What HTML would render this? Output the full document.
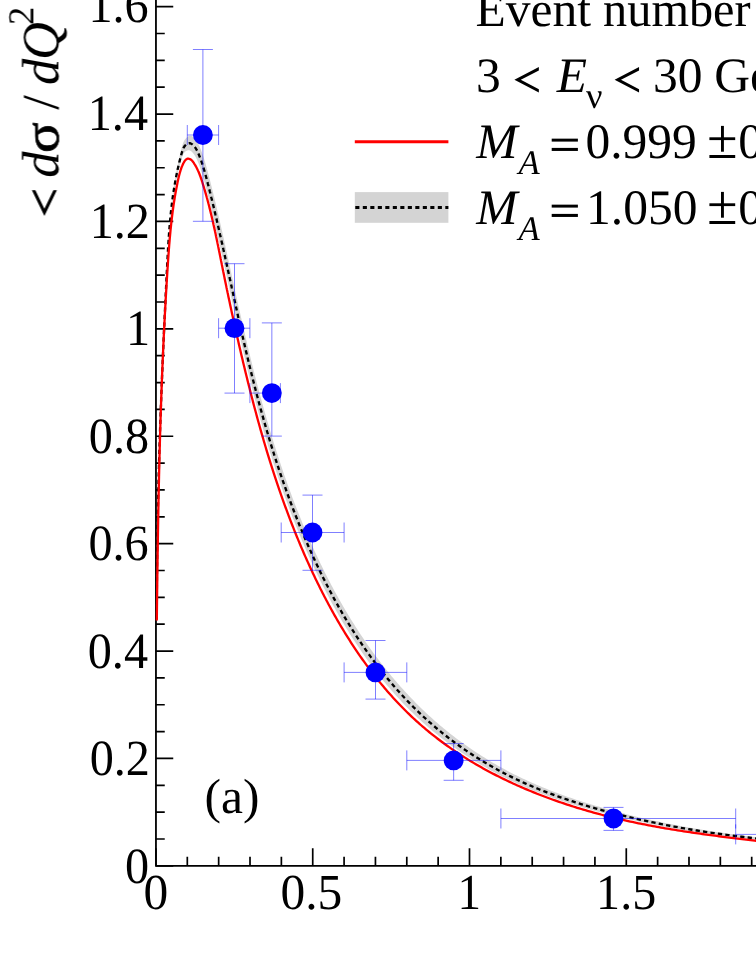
<!DOCTYPE html>
<html><head><meta charset="utf-8"><title>chart</title>
<style>
html,body{margin:0;padding:0;background:#fff;}
body{width:756px;height:978px;overflow:hidden;}
svg{display:block;}
text{font-family:"Liberation Serif",serif;font-size:49.5px;fill:#000;text-rendering:geometricPrecision;font-kerning:none;}
</style></head><body>
<svg width="756" height="978" viewBox="0 0 756 978">
<rect width="756" height="978" fill="#fff"/>
<!-- axes -->
<path d="M155.95,-5V866.75M155.05,865.85H760" fill="none" stroke="#000" stroke-width="1.8"/>
<path d="M155.95,865.85v-17.6M187.31,865.85v-9.0M218.66,865.85v-9.0M250.01,865.85v-9.0M281.37,865.85v-9.0M312.73,865.85v-17.6M344.08,865.85v-9.0M375.44,865.85v-9.0M406.79,865.85v-9.0M438.14,865.85v-9.0M469.50,865.85v-17.6M500.86,865.85v-9.0M532.21,865.85v-9.0M563.57,865.85v-9.0M594.92,865.85v-9.0M626.28,865.85v-17.6M657.63,865.85v-9.0M688.99,865.85v-9.0M720.34,865.85v-9.0M751.70,865.85v-9.0M155.95,865.85h17.3M155.95,839.00h8.8M155.95,812.15h8.8M155.95,785.30h8.8M155.95,758.45h17.3M155.95,731.60h8.8M155.95,704.75h8.8M155.95,677.90h8.8M155.95,651.05h17.3M155.95,624.20h8.8M155.95,597.35h8.8M155.95,570.50h8.8M155.95,543.65h17.3M155.95,516.80h8.8M155.95,489.95h8.8M155.95,463.10h8.8M155.95,436.25h17.3M155.95,409.40h8.8M155.95,382.55h8.8M155.95,355.70h8.8M155.95,328.85h17.3M155.95,302.00h8.8M155.95,275.15h8.8M155.95,248.30h8.8M155.95,221.45h17.3M155.95,194.60h8.8M155.95,167.75h8.8M155.95,140.90h8.8M155.95,114.05h17.3M155.95,87.20h8.8M155.95,60.35h8.8M155.95,33.50h8.8M155.95,6.65h17.3M155.95,-20.20h8.8" fill="none" stroke="#000" stroke-width="1.7"/>
<!-- uncertainty band and model curves -->
<path d="M156.82,618.25 L156.82,616.10 L156.81,613.96 L156.81,611.81 L156.81,609.67 L156.81,607.53 L156.81,605.38 L156.81,603.24 L156.81,601.09 L156.81,598.95 L156.82,596.80 L156.82,594.66 L156.83,592.51 L156.84,590.37 L156.85,588.22 L156.86,586.08 L156.87,583.94 L156.88,581.79 L156.89,579.65 L156.90,577.50 L156.92,575.36 L156.93,573.21 L156.95,571.07 L156.97,568.92 L156.99,566.77 L157.01,564.63 L157.03,562.48 L157.05,560.34 L157.07,558.19 L157.10,556.05 L157.12,553.90 L157.15,551.76 L157.17,549.61 L157.20,547.47 L157.23,545.32 L157.26,543.17 L157.29,541.03 L157.32,538.88 L157.35,536.74 L157.39,534.59 L157.42,532.45 L157.46,530.30 L157.49,528.15 L157.53,526.01 L157.57,523.86 L157.60,521.72 L157.64,519.57 L157.68,517.42 L157.73,515.28 L157.77,513.13 L157.81,510.98 L157.85,508.84 L157.90,506.69 L157.94,504.54 L157.99,502.40 L158.04,500.25 L158.09,498.10 L158.14,495.96 L158.19,493.81 L158.24,491.66 L158.29,489.52 L158.34,487.37 L158.39,485.22 L158.45,483.08 L158.50,480.93 L158.56,478.78 L158.61,476.63 L158.67,474.49 L158.73,472.34 L158.78,470.19 L158.84,468.05 L158.90,465.90 L158.96,463.75 L159.02,461.60 L159.09,459.46 L159.15,457.31 L159.21,455.16 L159.28,453.01 L159.34,450.86 L159.41,448.72 L159.47,446.57 L159.54,444.42 L159.61,442.27 L159.68,440.12 L159.75,437.97 L159.82,435.83 L159.89,433.68 L159.96,431.53 L160.03,429.38 L160.10,427.23 L160.17,425.08 L160.25,422.93 L160.32,420.79 L160.40,418.64 L160.47,416.49 L160.55,414.34 L160.63,412.19 L160.70,410.04 L160.78,407.89 L160.86,405.74 L160.94,403.59 L161.02,401.44 L161.10,399.29 L161.18,397.14 L161.26,394.99 L161.35,392.84 L161.43,390.70 L161.51,388.55 L161.60,386.40 L161.68,384.25 L161.76,382.10 L161.85,379.94 L161.94,377.79 L162.02,375.64 L162.11,373.49 L162.20,371.34 L162.29,369.19 L162.37,367.04 L162.46,364.89 L162.55,362.74 L162.64,360.59 L162.73,358.44 L162.82,356.29 L162.92,354.14 L163.01,351.99 L163.10,349.83 L163.19,347.68 L163.29,345.53 L163.38,343.38 L163.47,341.23 L163.57,339.08 L163.66,336.92 L163.76,334.77 L163.86,332.62 L163.95,330.47 L164.05,328.32 L164.15,326.16 L164.24,324.01 L164.34,321.86 L164.44,319.71 L164.54,317.55 L164.64,315.40 L164.74,313.25 L164.84,311.10 L164.94,308.94 L165.04,306.79 L165.14,304.64 L165.24,302.48 L165.34,300.33 L165.44,298.18 L165.55,296.02 L165.65,293.87 L165.75,291.72 L165.86,289.56 L165.96,287.41 L166.06,285.26 L166.17,283.10 L166.27,280.95 L166.38,278.80 L166.48,276.64 L166.59,274.49 L166.69,272.33 L166.80,270.18 L166.90,268.02 L167.01,265.87 L167.12,263.72 L167.23,261.56 L167.33,259.41 L167.44,257.25 L167.56,255.10 L167.67,252.94 L167.79,250.79 L167.91,248.63 L168.03,246.48 L168.15,244.32 L168.28,242.17 L168.41,240.01 L168.55,237.85 L168.69,235.70 L168.84,233.54 L168.99,231.39 L169.14,229.23 L169.31,227.07 L169.47,224.92 L169.65,222.76 L169.83,220.60 L170.02,218.45 L170.21,216.29 L170.41,214.13 L170.62,211.97 L170.84,209.81 L171.07,207.65 L171.30,205.49 L171.55,203.33 L171.80,201.17 L172.06,199.01 L172.34,196.85 L172.62,194.68 L172.92,192.52 L173.22,190.35 L173.54,188.18 L173.87,186.00 L174.20,183.83 L174.52,181.90 L174.56,181.65 L174.68,180.93 L174.84,179.96 L174.92,179.47 L175.00,178.99 L175.17,178.02 L175.30,177.29 L175.34,177.05 L175.51,176.08 L175.69,175.10 L175.69,175.10 L175.86,174.13 L176.04,173.16 L176.09,172.91 L176.23,172.19 L176.41,171.21 L176.51,170.72 L176.60,170.24 L176.79,169.26 L176.94,168.53 L176.99,168.28 L177.18,167.31 L177.38,166.33 L177.38,166.33 L177.58,165.35 L177.79,164.37 L177.84,164.13 L178.00,163.39 L178.21,162.41 L178.32,161.92 L178.42,161.43 L178.64,160.45 L178.80,159.71 L178.86,159.46 L179.08,158.48 L179.31,157.50 L179.31,157.50 L179.54,156.51 L179.77,155.53 L179.83,155.28 L180.01,154.54 L180.25,153.55 L180.37,153.06 L180.49,152.56 L180.74,151.58 L180.92,150.84 L180.98,150.59 L181.24,149.59 L181.49,148.61 L181.49,148.60 L181.75,147.61 L182.01,146.62 L182.08,146.38 L182.28,145.63 L182.57,144.64 L182.73,144.15 L182.90,143.66 L183.26,142.68 L183.57,141.97 L183.68,141.73 L184.17,140.78 L184.73,139.87 L184.73,139.86 L185.37,138.98 L186.07,138.16 L186.24,137.98 L186.81,137.43 L187.58,136.82 L187.97,136.57 L188.38,136.35 L189.19,136.03 L189.78,135.91 L189.99,135.89 L190.78,135.92 L191.55,136.11 L191.56,136.11 L192.32,136.43 L193.06,136.87 L193.22,136.99 L193.76,137.40 L194.43,138.00 L194.73,138.31 L195.05,138.66 L195.63,139.35 L196.03,139.87 L196.16,140.06 L196.66,140.79 L197.11,141.53 L197.11,141.54 L197.54,142.31 L197.95,143.09 L198.04,143.27 L198.33,143.87 L198.70,144.67 L198.88,145.05 L199.07,145.47 L199.42,146.27 L199.68,146.86 L199.77,147.08 L200.11,147.89 L200.44,148.69 L200.45,148.71 L200.78,149.53 L201.10,150.35 L201.17,150.54 L201.42,151.18 L201.73,152.01 L201.88,152.41 L202.03,152.85 L202.33,153.68 L202.55,154.30 L202.63,154.53 L202.92,155.37 L203.20,156.20 L203.20,156.22 L203.49,157.07 L203.76,157.92 L203.82,158.12 L204.03,158.78 L204.30,159.64 L204.43,160.05 L204.57,160.50 L204.83,161.37 L205.02,161.99 L205.09,162.23 L205.34,163.10 L205.59,163.95 L205.60,163.97 L205.85,164.85 L206.09,165.72 L206.15,165.92 L206.34,166.60 L206.58,167.48 L206.70,167.89 L206.82,168.36 L207.06,169.24 L207.24,169.88 L207.30,170.12 L207.54,171.01 L207.77,171.87 L207.78,171.89 L208.01,172.78 L208.25,173.67 L208.30,173.86 L208.48,174.56 L208.71,175.44 L208.82,175.86 L208.95,176.34 L209.18,177.23 L209.35,177.87 L209.41,178.12 L209.64,179.02 L209.87,179.88 L209.88,179.91 L210.11,180.81 L210.34,181.70 L210.39,181.90 L210.56,182.60 L210.79,183.50 L210.90,183.92 L211.02,184.40 L211.25,185.30 L211.41,185.95 L211.48,186.21 L211.70,187.11 L211.92,187.99 L211.93,188.02 L212.15,188.92 L212.38,189.83 L212.43,190.02 L212.60,190.74 L212.83,191.65 L212.93,192.07 L213.05,192.56 L213.27,193.47 L213.43,194.12 L213.50,194.38 L213.72,195.29 L213.93,196.17 L213.94,196.20 L214.16,197.11 L214.38,198.03 L214.43,198.22 L214.60,198.94 L214.82,199.85 L214.92,200.27 L215.04,200.77 L215.26,201.68 L215.41,202.33 L215.48,202.60 L215.70,203.51 L215.90,204.39 L215.91,204.43 L216.13,205.35 L216.35,206.27 L216.39,206.46 L216.56,207.18 L216.78,208.10 L216.88,208.52 L216.99,209.02 L217.21,209.94 L217.36,210.59 L217.42,210.86 L217.64,211.78 L217.84,212.66 L217.85,212.70 L218.07,213.62 L218.28,214.54 L218.32,214.73 L218.49,215.47 L218.71,216.39 L218.80,216.81 L218.92,217.31 L219.13,218.23 L219.28,218.88 L219.34,219.16 L219.55,220.08 L219.75,220.96 L219.76,221.00 L219.97,221.93 L220.18,222.85 L220.23,223.04 L220.39,223.77 L220.60,224.70 L220.70,225.12 L220.81,225.62 L221.02,226.55 L221.17,227.20 L221.23,227.48 L221.44,228.40 L221.64,229.28 L221.65,229.33 L221.86,230.25 L222.06,231.18 L222.11,231.36 L222.27,232.11 L222.48,233.03 L222.57,233.45 L222.69,233.96 L222.89,234.89 L223.04,235.54 L223.10,235.82 L223.31,236.74 L223.50,237.62 L223.51,237.67 L223.72,238.60 L223.93,239.53 L223.97,239.71 L224.13,240.46 L224.34,241.38 L224.43,241.80 L224.54,242.31 L224.75,243.24 L224.89,243.89 L224.95,244.17 L225.16,245.10 L225.35,245.98 L225.36,246.03 L225.57,246.96 L225.77,247.89 L225.81,248.07 L225.97,248.82 L226.18,249.74 L226.27,250.16 L226.38,250.67 L226.59,251.60 L226.73,252.25 L226.79,252.53 L226.99,253.46 L227.18,254.34 L227.20,254.39 L227.40,255.32 L227.60,256.25 L227.64,256.43 L227.81,257.18 L228.01,258.11 L228.10,258.52 L228.21,259.04 L228.41,259.97 L228.55,260.61 L228.62,260.90 L228.82,261.83 L229.01,262.70 L229.02,262.76 L229.23,263.69 L229.43,264.62 L229.47,264.79 L229.63,265.55 L229.83,266.48 L229.92,266.88 L230.04,267.41 L230.24,268.34 L230.38,268.97 L230.44,269.27 L230.64,270.20 L230.83,271.07 L230.85,271.13 L231.05,272.06 L231.25,272.98 L231.29,273.16 L231.45,273.91 L231.66,274.84 L231.74,275.25 L231.86,275.77 L232.06,276.70 L232.20,277.33 L232.26,277.63 L232.47,278.56 L232.66,279.42 L232.67,279.49 L232.87,280.42 L233.07,281.34 L233.11,281.51 L233.28,282.27 L233.48,283.20 L233.57,283.60 L233.68,284.13 L234.02,285.69 L234.48,287.78 L234.94,289.86 L235.40,291.95 L235.86,294.04 L236.32,296.13 L236.78,298.21 L237.24,300.30 L237.70,302.39 L238.16,304.47 L238.63,306.56 L239.09,308.65 L239.56,310.73 L240.03,312.82 L240.50,314.91 L240.97,317.00 L241.44,319.08 L241.91,321.17 L242.39,323.26 L242.87,325.35 L243.34,327.44 L243.82,329.53 L244.31,331.61 L244.79,333.70 L245.28,335.79 L245.76,337.88 L246.25,339.98 L246.75,342.07 L247.24,344.16 L247.74,346.25 L248.24,348.35 L248.74,350.44 L249.24,352.54 L249.75,354.63 L250.26,356.73 L250.77,358.82 L251.28,360.92 L251.80,363.02 L252.32,365.12 L252.84,367.22 L253.37,369.33 L253.89,371.43 L254.42,373.53 L254.96,375.63 L255.49,377.73 L256.03,379.83 L256.57,381.94 L257.12,384.04 L257.67,386.14 L258.22,388.24 L258.77,390.34 L259.33,392.44 L259.89,394.54 L260.45,396.64 L261.02,398.74 L261.59,400.83 L262.16,402.93 L262.74,405.03 L263.32,407.12 L263.90,409.22 L264.49,411.31 L265.08,413.41 L265.67,415.50 L266.27,417.59 L266.87,419.69 L267.47,421.78 L268.08,423.87 L268.69,425.96 L269.31,428.04 L269.93,430.13 L270.55,432.22 L271.17,434.30 L271.80,436.39 L272.44,438.47 L273.08,440.55 L273.72,442.63 L274.36,444.71 L275.01,446.79 L275.67,448.86 L276.32,450.94 L276.99,453.01 L277.65,455.08 L278.32,457.15 L279.00,459.22 L279.68,461.29 L280.36,463.36 L281.05,465.42 L281.74,467.48 L282.43,469.54 L283.13,471.60 L283.84,473.66 L284.55,475.71 L285.26,477.77 L285.98,479.82 L286.70,481.87 L287.43,483.91 L288.16,485.96 L288.90,488.00 L289.64,490.04 L290.38,492.08 L291.13,494.11 L291.89,496.15 L292.65,498.18 L293.42,500.21 L294.19,502.23 L294.96,504.26 L295.74,506.28 L296.53,508.30 L297.32,510.32 L298.11,512.33 L298.91,514.35 L299.72,516.36 L300.53,518.37 L301.34,520.37 L302.17,522.38 L302.99,524.38 L303.82,526.38 L304.66,528.37 L305.50,530.37 L306.35,532.36 L307.20,534.35 L308.06,536.34 L308.93,538.33 L309.80,540.31 L310.67,542.29 L311.55,544.27 L312.44,546.25 L313.33,548.22 L314.23,550.19 L315.13,552.16 L316.04,554.13 L316.96,556.09 L317.88,558.05 L318.81,560.01 L319.74,561.97 L320.68,563.92 L321.63,565.87 L322.58,567.82 L323.53,569.76 L324.50,571.70 L325.47,573.64 L326.44,575.57 L327.43,577.50 L328.41,579.42 L329.41,581.34 L330.41,583.26 L331.42,585.17 L332.43,587.08 L333.45,588.98 L334.47,590.88 L335.51,592.78 L336.55,594.67 L337.59,596.56 L338.64,598.44 L339.70,600.32 L340.77,602.19 L341.84,604.06 L342.92,605.93 L344.01,607.80 L345.10,609.65 L346.20,611.51 L347.30,613.36 L348.42,615.21 L349.54,617.05 L350.66,618.89 L351.80,620.72 L352.94,622.55 L354.09,624.37 L355.24,626.20 L356.40,628.01 L357.57,629.83 L358.75,631.63 L359.93,633.44 L361.12,635.24 L362.32,637.03 L363.53,638.82 L364.74,640.60 L365.96,642.38 L367.19,644.15 L368.42,645.91 L369.67,647.67 L370.92,649.42 L372.17,651.17 L373.44,652.91 L374.71,654.65 L375.99,656.38 L377.28,658.10 L378.58,659.82 L379.88,661.53 L381.19,663.23 L382.51,664.93 L383.84,666.62 L385.18,668.30 L386.52,669.98 L387.87,671.65 L389.23,673.32 L390.60,674.98 L391.97,676.63 L393.36,678.28 L394.75,679.92 L396.15,681.55 L397.55,683.17 L398.97,684.79 L400.40,686.40 L401.83,688.01 L403.27,689.61 L404.72,691.20 L406.18,692.78 L407.64,694.36 L409.12,695.93 L410.60,697.49 L412.09,699.04 L413.59,700.59 L415.10,702.13 L416.62,703.66 L418.15,705.19 L419.68,706.71 L421.23,708.22 L422.78,709.72 L424.34,711.21 L425.91,712.70 L427.49,714.18 L429.08,715.65 L430.68,717.11 L432.28,718.56 L433.90,720.00 L435.52,721.43 L437.15,722.86 L438.80,724.27 L440.45,725.68 L442.11,727.07 L443.78,728.46 L445.46,729.83 L447.14,731.20 L448.84,732.56 L450.54,733.90 L452.26,735.24 L453.98,736.57 L455.71,737.89 L457.45,739.20 L459.19,740.50 L460.95,741.78 L462.71,743.06 L464.48,744.33 L466.25,745.59 L468.04,746.84 L469.83,748.08 L471.63,749.30 L473.44,750.52 L475.25,751.73 L477.07,752.93 L478.90,754.11 L480.73,755.29 L482.57,756.46 L484.42,757.61 L486.27,758.76 L488.13,759.89 L490.00,761.01 L491.88,762.13 L493.75,763.23 L495.64,764.32 L497.53,765.40 L499.43,766.47 L501.33,767.53 L503.24,768.58 L505.15,769.61 L507.07,770.64 L509.00,771.65 L510.93,772.66 L512.86,773.65 L514.80,774.63 L516.75,775.60 L518.70,776.56 L520.65,777.51 L522.61,778.44 L524.57,779.37 L526.54,780.28 L528.51,781.18 L530.49,782.07 L532.47,782.95 L534.46,783.82 L536.44,784.68 L538.44,785.53 L540.43,786.37 L542.43,787.20 L544.43,788.02 L546.44,788.83 L548.45,789.63 L550.46,790.42 L552.48,791.20 L554.50,791.97 L556.52,792.74 L558.54,793.49 L560.57,794.24 L562.60,794.97 L564.63,795.70 L566.67,796.42 L568.71,797.13 L570.74,797.83 L572.79,798.52 L574.83,799.21 L576.87,799.89 L578.92,800.56 L580.97,801.22 L583.02,801.88 L585.07,802.53 L587.12,803.17 L589.18,803.80 L591.23,804.43 L593.29,805.05 L595.35,805.66 L597.41,806.27 L599.46,806.87 L601.52,807.46 L603.58,808.05 L605.64,808.63 L607.71,809.21 L609.77,809.78 L611.83,810.35 L613.89,810.91 L615.95,811.46 L618.02,812.01 L620.08,812.55 L622.15,813.08 L624.21,813.61 L626.28,814.14 L628.35,814.66 L630.41,815.17 L632.48,815.68 L634.55,816.18 L636.62,816.68 L638.69,817.17 L640.76,817.65 L642.84,818.13 L644.91,818.61 L646.98,819.08 L649.06,819.55 L651.13,820.01 L653.21,820.46 L655.29,820.91 L657.37,821.35 L659.45,821.79 L661.53,822.23 L663.61,822.66 L665.69,823.08 L667.77,823.50 L669.86,823.92 L671.94,824.33 L674.03,824.73 L676.12,825.13 L678.21,825.53 L680.30,825.92 L682.39,826.31 L684.48,826.69 L686.58,827.06 L688.68,827.44 L690.77,827.81 L692.87,828.17 L694.97,828.53 L697.07,828.88 L699.17,829.23 L701.28,829.58 L703.38,829.92 L705.49,830.26 L707.60,830.59 L709.71,830.92 L711.82,831.25 L713.93,831.57 L716.05,831.89 L718.16,832.20 L720.28,832.51 L722.40,832.82 L724.52,833.12 L726.64,833.42 L728.77,833.71 L730.89,834.00 L733.02,834.29 L735.15,834.57 L737.28,834.85 L739.41,835.12 L741.55,835.39 L743.69,835.66 L745.82,835.93 L747.97,836.19 L750.11,836.45 L752.25,836.70 L754.40,836.95 L756.55,837.20 L758.70,837.44 L760.85,837.68 L763.00,837.92 L765.16,838.16 L767.32,838.39 L769.48,838.62 L771.64,838.84 L773.81,839.06 L775.97,839.28 L778.14,839.50 L780.31,839.71 L780.31,842.05 L778.14,841.85 L775.97,841.66 L773.81,841.46 L771.64,841.25 L769.48,841.05 L767.32,840.84 L765.16,840.63 L763.00,840.41 L760.85,840.20 L758.70,839.98 L756.55,839.75 L754.40,839.53 L752.25,839.30 L750.11,839.07 L747.97,838.83 L745.82,838.59 L743.69,838.35 L741.55,838.11 L739.41,837.86 L737.28,837.61 L735.15,837.36 L733.02,837.10 L730.89,836.84 L728.77,836.57 L726.64,836.30 L724.52,836.03 L722.40,835.76 L720.28,835.48 L718.16,835.20 L716.05,834.91 L713.93,834.62 L711.82,834.33 L709.71,834.03 L707.60,833.73 L705.49,833.42 L703.38,833.11 L701.28,832.80 L699.17,832.49 L697.07,832.17 L694.97,831.84 L692.87,831.51 L690.77,831.18 L688.68,830.85 L686.58,830.50 L684.48,830.16 L682.39,829.81 L680.30,829.46 L678.21,829.10 L676.12,828.74 L674.03,828.37 L671.94,828.00 L669.86,827.63 L667.77,827.25 L665.69,826.87 L663.61,826.48 L661.53,826.09 L659.45,825.69 L657.37,825.29 L655.29,824.88 L653.21,824.47 L651.13,824.06 L649.06,823.64 L646.98,823.21 L644.91,822.78 L642.84,822.35 L640.76,821.91 L638.69,821.46 L636.62,821.01 L634.55,820.56 L632.48,820.10 L630.41,819.64 L628.35,819.17 L626.28,818.69 L624.21,818.21 L622.15,817.73 L620.08,817.24 L618.02,816.74 L615.95,816.24 L613.89,815.74 L611.83,815.23 L609.77,814.71 L607.71,814.19 L605.64,813.66 L603.58,813.13 L601.52,812.59 L599.46,812.05 L597.41,811.50 L595.35,810.94 L593.29,810.38 L591.23,809.81 L589.18,809.24 L587.12,808.66 L585.07,808.07 L583.02,807.48 L580.97,806.88 L578.92,806.27 L576.87,805.66 L574.83,805.04 L572.79,804.41 L570.74,803.77 L568.71,803.13 L566.67,802.48 L564.63,801.82 L562.60,801.15 L560.57,800.48 L558.54,799.80 L556.52,799.10 L554.50,798.41 L552.48,797.70 L550.46,796.98 L548.45,796.26 L546.44,795.52 L544.43,794.78 L542.43,794.03 L540.43,793.27 L538.44,792.50 L536.44,791.72 L534.46,790.93 L532.47,790.13 L530.49,789.32 L528.51,788.50 L526.54,787.67 L524.57,786.83 L522.61,785.99 L520.65,785.13 L518.70,784.26 L516.75,783.37 L514.80,782.48 L512.86,781.58 L510.93,780.67 L509.00,779.75 L507.07,778.81 L505.15,777.87 L503.24,776.91 L501.33,775.95 L499.43,774.98 L497.53,773.99 L495.64,773.00 L493.75,771.99 L491.88,770.97 L490.00,769.95 L488.13,768.91 L486.27,767.87 L484.42,766.81 L482.57,765.75 L480.73,764.67 L478.90,763.58 L477.07,762.49 L475.25,761.38 L473.44,760.27 L471.63,759.14 L469.83,758.01 L468.04,756.86 L466.25,755.71 L464.48,754.54 L462.71,753.37 L460.95,752.19 L459.19,750.99 L457.45,749.79 L455.71,748.58 L453.98,747.36 L452.26,746.13 L450.54,744.88 L448.84,743.63 L447.14,742.38 L445.46,741.11 L443.78,739.83 L442.11,738.54 L440.45,737.25 L438.80,735.94 L437.15,734.62 L435.52,733.30 L433.90,731.97 L432.28,730.63 L430.68,729.27 L429.08,727.92 L427.49,726.55 L425.91,725.17 L424.34,723.78 L422.78,722.39 L421.23,720.98 L419.68,719.57 L418.15,718.15 L416.62,716.71 L415.10,715.27 L413.59,713.82 L412.09,712.36 L410.60,710.89 L409.12,709.41 L407.64,707.93 L406.18,706.43 L404.72,704.93 L403.27,703.42 L401.83,701.90 L400.40,700.37 L398.97,698.83 L397.55,697.28 L396.15,695.73 L394.75,694.17 L393.36,692.60 L391.97,691.02 L390.60,689.44 L389.23,687.85 L387.87,686.25 L386.52,684.64 L385.18,683.03 L383.84,681.40 L382.51,679.78 L381.19,678.14 L379.88,676.50 L378.58,674.85 L377.28,673.19 L375.99,671.53 L374.71,669.86 L373.44,668.18 L372.17,666.50 L370.92,664.81 L369.67,663.12 L368.42,661.42 L367.19,659.71 L365.96,658.00 L364.74,656.28 L363.53,654.56 L362.32,652.83 L361.12,651.09 L359.93,649.35 L358.75,647.60 L357.57,645.85 L356.40,644.09 L355.24,642.33 L354.09,640.55 L352.94,638.78 L351.80,636.99 L350.66,635.20 L349.54,633.41 L348.42,631.61 L347.30,629.80 L346.20,627.99 L345.10,626.18 L344.01,624.35 L342.92,622.53 L341.84,620.70 L340.77,618.86 L339.70,617.02 L338.64,615.18 L337.59,613.33 L336.55,611.48 L335.51,609.62 L334.47,607.76 L333.45,605.90 L332.43,604.03 L331.42,602.16 L330.41,600.28 L329.41,598.41 L328.41,596.53 L327.43,594.64 L326.44,592.76 L325.47,590.87 L324.50,588.98 L323.53,587.08 L322.58,585.18 L321.63,583.28 L320.68,581.38 L319.74,579.48 L318.81,577.57 L317.88,575.66 L316.96,573.75 L316.04,571.83 L315.13,569.91 L314.23,567.99 L313.33,566.07 L312.44,564.14 L311.55,562.21 L310.67,560.28 L309.80,558.35 L308.93,556.42 L308.06,554.48 L307.20,552.54 L306.35,550.60 L305.50,548.66 L304.66,546.72 L303.82,544.77 L302.99,542.83 L302.17,540.88 L301.34,538.93 L300.53,536.98 L299.72,535.02 L298.91,533.07 L298.11,531.11 L297.32,529.16 L296.53,527.20 L295.74,525.24 L294.96,523.27 L294.19,521.31 L293.42,519.34 L292.65,517.38 L291.89,515.41 L291.13,513.44 L290.38,511.47 L289.64,509.50 L288.90,507.53 L288.16,505.56 L287.43,503.58 L286.70,501.61 L285.98,499.63 L285.26,497.65 L284.55,495.67 L283.84,493.69 L283.13,491.71 L282.43,489.73 L281.74,487.75 L281.05,485.76 L280.36,483.78 L279.68,481.79 L279.00,479.80 L278.32,477.81 L277.65,475.82 L276.99,473.83 L276.32,471.84 L275.67,469.84 L275.01,467.85 L274.36,465.85 L273.72,463.85 L273.08,461.85 L272.44,459.85 L271.80,457.85 L271.17,455.84 L270.55,453.84 L269.93,451.83 L269.31,449.82 L268.69,447.81 L268.08,445.80 L267.47,443.79 L266.87,441.78 L266.27,439.77 L265.67,437.75 L265.08,435.73 L264.49,433.71 L263.90,431.70 L263.32,429.67 L262.74,427.65 L262.16,425.63 L261.59,423.60 L261.02,421.58 L260.45,419.55 L259.89,417.52 L259.33,415.49 L258.77,413.46 L258.22,411.43 L257.67,409.39 L257.12,407.36 L256.57,405.32 L256.03,403.28 L255.49,401.24 L254.96,399.20 L254.42,397.16 L253.89,395.12 L253.37,393.07 L252.84,391.02 L252.32,388.98 L251.80,386.93 L251.28,384.87 L250.77,382.82 L250.26,380.76 L249.75,378.70 L249.24,376.64 L248.74,374.58 L248.24,372.51 L247.74,370.45 L247.24,368.38 L246.75,366.31 L246.25,364.24 L245.76,362.17 L245.28,360.09 L244.79,358.02 L244.31,355.94 L243.82,353.86 L243.34,351.78 L242.87,349.70 L242.39,347.62 L241.91,345.54 L241.44,343.46 L240.97,341.38 L240.50,339.29 L240.03,337.21 L239.56,335.12 L239.09,333.04 L238.63,330.95 L238.16,328.86 L237.70,326.78 L237.24,324.69 L236.78,322.60 L236.32,320.51 L235.86,318.42 L235.40,316.33 L234.94,314.25 L234.48,312.16 L234.02,310.07 L233.68,308.51 L233.57,307.98 L233.48,307.58 L233.28,306.65 L233.11,305.89 L233.07,305.72 L232.87,304.80 L232.67,303.87 L232.66,303.80 L232.47,302.94 L232.26,302.01 L232.20,301.72 L232.06,301.08 L231.86,300.15 L231.74,299.63 L231.66,299.23 L231.45,298.30 L231.29,297.54 L231.25,297.37 L231.05,296.44 L230.85,295.51 L230.83,295.45 L230.64,294.59 L230.44,293.66 L230.38,293.37 L230.24,292.73 L230.04,291.80 L229.92,291.28 L229.83,290.88 L229.63,289.95 L229.47,289.20 L229.43,289.02 L229.23,288.10 L229.02,287.17 L229.01,287.11 L228.82,286.24 L228.62,285.31 L228.55,285.03 L228.41,284.39 L228.21,283.46 L228.10,282.94 L228.01,282.53 L227.81,281.61 L227.64,280.86 L227.60,280.68 L227.40,279.75 L227.20,278.83 L227.18,278.77 L226.99,277.90 L226.79,276.97 L226.73,276.69 L226.59,276.05 L226.38,275.12 L226.27,274.60 L226.18,274.19 L225.97,273.27 L225.81,272.52 L225.77,272.34 L225.57,271.41 L225.36,270.49 L225.35,270.43 L225.16,269.56 L224.95,268.63 L224.89,268.35 L224.75,267.71 L224.54,266.78 L224.43,266.27 L224.34,265.85 L224.13,264.93 L223.97,264.18 L223.93,264.00 L223.72,263.07 L223.51,262.15 L223.50,262.10 L223.31,261.22 L223.10,260.29 L223.04,260.01 L222.89,259.36 L222.69,258.44 L222.57,257.93 L222.48,257.51 L222.27,256.58 L222.11,255.84 L222.06,255.65 L221.86,254.73 L221.65,253.80 L221.64,253.75 L221.44,252.87 L221.23,251.94 L221.17,251.67 L221.02,251.02 L220.81,250.09 L220.70,249.58 L220.60,249.16 L220.39,248.23 L220.23,247.49 L220.18,247.30 L219.97,246.37 L219.76,245.45 L219.75,245.40 L219.55,244.52 L219.34,243.59 L219.28,243.31 L219.13,242.66 L218.92,241.73 L218.80,241.22 L218.71,240.80 L218.49,239.87 L218.32,239.13 L218.28,238.94 L218.07,238.01 L217.85,237.08 L217.84,237.04 L217.64,236.15 L217.42,235.22 L217.36,234.94 L217.21,234.29 L216.99,233.36 L216.88,232.85 L216.78,232.42 L216.56,231.49 L216.39,230.75 L216.35,230.56 L216.13,229.63 L215.91,228.70 L215.90,228.66 L215.70,227.76 L215.48,226.83 L215.41,226.56 L215.26,225.90 L215.04,224.96 L214.92,224.46 L214.82,224.03 L214.60,223.09 L214.43,222.36 L214.38,222.16 L214.16,221.22 L213.94,220.29 L213.93,220.25 L213.72,219.35 L213.50,218.42 L213.43,218.15 L213.27,217.48 L213.05,216.54 L212.93,216.04 L212.83,215.61 L212.60,214.67 L212.43,213.93 L212.38,213.73 L212.15,212.79 L211.93,211.85 L211.92,211.82 L211.70,210.91 L211.48,209.97 L211.41,209.70 L211.25,209.03 L211.02,208.09 L210.90,207.58 L210.79,207.14 L210.56,206.20 L210.39,205.46 L210.34,205.25 L210.11,204.31 L209.88,203.36 L209.87,203.33 L209.64,202.41 L209.41,201.46 L209.35,201.19 L209.18,200.51 L208.95,199.56 L208.82,199.06 L208.71,198.61 L208.48,197.66 L208.30,196.92 L208.25,196.71 L208.01,195.75 L207.78,194.80 L207.77,194.77 L207.54,193.84 L207.30,192.89 L207.24,192.62 L207.06,191.93 L206.82,190.97 L206.70,190.47 L206.58,190.01 L206.34,189.06 L206.15,188.31 L206.09,188.10 L205.85,187.14 L205.60,186.18 L205.59,186.15 L205.34,185.21 L205.09,184.25 L205.02,183.99 L204.83,183.29 L204.57,182.32 L204.43,181.82 L204.30,181.36 L204.03,180.39 L203.82,179.65 L203.76,179.43 L203.49,178.46 L203.20,177.49 L203.20,177.47 L202.92,176.53 L202.63,175.56 L202.55,175.29 L202.33,174.59 L202.03,173.62 L201.88,173.11 L201.73,172.65 L201.42,171.67 L201.17,170.92 L201.10,170.70 L200.78,169.73 L200.45,168.75 L200.44,168.73 L200.11,167.78 L199.77,166.80 L199.68,166.54 L199.42,165.83 L199.07,164.85 L198.88,164.34 L198.70,163.87 L198.33,162.89 L198.04,162.14 L197.95,161.91 L197.54,160.93 L197.11,159.95 L197.11,159.93 L196.66,158.96 L196.16,157.97 L196.03,157.71 L195.63,156.98 L195.05,155.98 L194.73,155.47 L194.43,155.00 L193.76,154.05 L193.22,153.36 L193.06,153.15 L192.32,152.33 L191.56,151.62 L191.55,151.61 L190.78,151.04 L189.99,150.61 L189.78,150.52 L189.19,150.35 L188.38,150.29 L187.97,150.32 L187.58,150.39 L186.81,150.65 L186.24,150.94 L186.07,151.04 L185.37,151.54 L184.73,152.12 L184.73,152.13 L184.17,152.78 L183.68,153.49 L183.57,153.68 L183.26,154.25 L182.90,155.04 L182.73,155.46 L182.57,155.87 L182.28,156.71 L182.08,157.36 L182.01,157.57 L181.75,158.44 L181.49,159.30 L181.49,159.31 L181.24,160.17 L180.98,161.04 L180.92,161.26 L180.74,161.90 L180.49,162.78 L180.37,163.22 L180.25,163.65 L180.01,164.52 L179.83,165.18 L179.77,165.40 L179.54,166.27 L179.31,167.15 L179.31,167.16 L179.08,168.03 L178.86,168.91 L178.80,169.13 L178.64,169.79 L178.42,170.68 L178.32,171.12 L178.21,171.56 L178.00,172.45 L177.84,173.11 L177.79,173.33 L177.58,174.22 L177.38,175.11 L177.38,175.11 L177.18,176.00 L176.99,176.90 L176.94,177.12 L176.79,177.79 L176.60,178.68 L176.51,179.13 L176.41,179.58 L176.23,180.48 L176.09,181.15 L176.04,181.37 L175.86,182.27 L175.69,183.17 L175.69,183.17 L175.51,184.08 L175.34,184.98 L175.30,185.20 L175.17,185.88 L175.00,186.79 L174.92,187.24 L174.84,187.69 L174.68,188.60 L174.56,189.28 L174.52,189.51 L174.20,191.32 L173.87,193.37 L173.54,195.42 L173.22,197.48 L172.92,199.55 L172.62,201.61 L172.34,203.68 L172.06,205.76 L171.80,207.83 L171.55,209.91 L171.30,212.00 L171.07,214.08 L170.84,216.17 L170.62,218.26 L170.41,220.35 L170.21,222.44 L170.02,224.54 L169.83,226.63 L169.65,228.73 L169.47,230.83 L169.31,232.93 L169.14,235.04 L168.99,237.14 L168.84,239.25 L168.69,241.35 L168.55,243.46 L168.41,245.57 L168.28,247.68 L168.15,249.79 L168.03,251.90 L167.91,254.01 L167.79,256.13 L167.67,258.24 L167.56,260.36 L167.44,262.47 L167.33,264.59 L167.23,266.70 L167.12,268.82 L167.01,270.93 L166.90,273.05 L166.80,275.17 L166.69,277.28 L166.59,279.40 L166.48,281.52 L166.38,283.64 L166.27,285.75 L166.17,287.87 L166.06,289.99 L165.96,292.11 L165.86,294.23 L165.75,296.35 L165.65,298.46 L165.55,300.58 L165.44,302.70 L165.34,304.82 L165.24,306.94 L165.14,309.06 L165.04,311.18 L164.94,313.30 L164.84,315.42 L164.74,317.54 L164.64,319.66 L164.54,321.78 L164.44,323.90 L164.34,326.03 L164.24,328.15 L164.15,330.27 L164.05,332.39 L163.95,334.51 L163.86,336.63 L163.76,338.76 L163.66,340.88 L163.57,343.00 L163.47,345.12 L163.38,347.25 L163.29,349.37 L163.19,351.49 L163.10,353.61 L163.01,355.74 L162.92,357.86 L162.82,359.99 L162.73,362.11 L162.64,364.23 L162.55,366.36 L162.46,368.48 L162.37,370.61 L162.29,372.73 L162.20,374.86 L162.11,376.98 L162.02,379.11 L161.94,381.23 L161.85,383.36 L161.76,385.48 L161.68,387.61 L161.60,389.73 L161.51,391.86 L161.43,393.98 L161.35,396.11 L161.26,398.24 L161.18,400.36 L161.10,402.49 L161.02,404.62 L160.94,406.74 L160.86,408.87 L160.78,411.00 L160.70,413.12 L160.63,415.25 L160.55,417.38 L160.47,419.50 L160.40,421.63 L160.32,423.76 L160.25,425.89 L160.17,428.01 L160.10,430.14 L160.03,432.27 L159.96,434.40 L159.89,436.53 L159.82,438.65 L159.75,440.78 L159.68,442.91 L159.61,445.04 L159.54,447.17 L159.47,449.30 L159.41,451.43 L159.34,453.56 L159.28,455.68 L159.21,457.81 L159.15,459.94 L159.09,462.07 L159.02,464.20 L158.96,466.33 L158.90,468.46 L158.84,470.59 L158.78,472.72 L158.73,474.85 L158.67,476.98 L158.61,479.11 L158.56,481.24 L158.50,483.37 L158.45,485.50 L158.39,487.63 L158.34,489.76 L158.29,491.89 L158.24,494.02 L158.19,496.15 L158.14,498.28 L158.09,500.41 L158.04,502.54 L157.99,504.67 L157.94,506.80 L157.90,508.93 L157.85,511.06 L157.81,513.19 L157.77,515.32 L157.73,517.45 L157.68,519.58 L157.64,521.72 L157.60,523.85 L157.57,525.98 L157.53,528.11 L157.49,530.24 L157.46,532.37 L157.42,534.50 L157.39,536.63 L157.35,538.76 L157.32,540.89 L157.29,543.03 L157.26,545.16 L157.23,547.29 L157.20,549.42 L157.17,551.55 L157.15,553.68 L157.12,555.81 L157.10,557.94 L157.07,560.07 L157.05,562.21 L157.03,564.34 L157.01,566.47 L156.99,568.60 L156.97,570.73 L156.95,572.86 L156.93,574.99 L156.92,577.13 L156.90,579.26 L156.89,581.39 L156.88,583.52 L156.87,585.65 L156.86,587.78 L156.85,589.91 L156.84,592.04 L156.83,594.18 L156.82,596.31 L156.82,598.44 L156.81,600.57 L156.81,602.70 L156.81,604.83 L156.81,606.96 L156.81,609.10 L156.81,611.23 L156.81,613.36 L156.81,615.49 L156.82,617.62 L156.82,619.75Z" fill="#d4d4d4" stroke="none"/>
<path d="M156.82,619.00 L156.82,616.86 L156.81,614.72 L156.81,612.59 L156.81,610.45 L156.81,608.31 L156.81,606.17 L156.81,604.03 L156.81,601.90 L156.81,599.76 L156.82,597.62 L156.82,595.48 L156.83,593.35 L156.84,591.21 L156.85,589.07 L156.86,586.93 L156.87,584.79 L156.88,582.65 L156.89,580.52 L156.90,578.38 L156.92,576.24 L156.93,574.10 L156.95,571.96 L156.97,569.83 L156.99,567.69 L157.01,565.55 L157.03,563.41 L157.05,561.27 L157.07,559.13 L157.10,557.00 L157.12,554.86 L157.15,552.72 L157.17,550.58 L157.20,548.44 L157.23,546.30 L157.26,544.17 L157.29,542.03 L157.32,539.89 L157.35,537.75 L157.39,535.61 L157.42,533.47 L157.46,531.33 L157.49,529.20 L157.53,527.06 L157.57,524.92 L157.60,522.78 L157.64,520.64 L157.68,518.50 L157.73,516.37 L157.77,514.23 L157.81,512.09 L157.85,509.95 L157.90,507.81 L157.94,505.67 L157.99,503.53 L158.04,501.40 L158.09,499.26 L158.14,497.12 L158.19,494.98 L158.24,492.84 L158.29,490.70 L158.34,488.56 L158.39,486.43 L158.45,484.29 L158.50,482.15 L158.56,480.01 L158.61,477.87 L158.67,475.73 L158.73,473.59 L158.78,471.46 L158.84,469.32 L158.90,467.18 L158.96,465.04 L159.02,462.90 L159.09,460.76 L159.15,458.62 L159.21,456.49 L159.28,454.35 L159.34,452.21 L159.41,450.07 L159.47,447.93 L159.54,445.79 L159.61,443.66 L159.68,441.52 L159.75,439.38 L159.82,437.24 L159.89,435.10 L159.96,432.96 L160.03,430.83 L160.10,428.69 L160.17,426.55 L160.25,424.41 L160.32,422.27 L160.40,420.13 L160.47,418.00 L160.55,415.86 L160.63,413.72 L160.70,411.58 L160.78,409.44 L160.86,407.31 L160.94,405.17 L161.02,403.03 L161.10,400.89 L161.18,398.75 L161.26,396.62 L161.35,394.48 L161.43,392.34 L161.51,390.20 L161.60,388.06 L161.68,385.93 L161.76,383.79 L161.85,381.65 L161.94,379.51 L162.02,377.37 L162.11,375.24 L162.20,373.10 L162.29,370.96 L162.37,368.82 L162.46,366.69 L162.55,364.55 L162.64,362.41 L162.73,360.27 L162.82,358.14 L162.92,356.00 L163.01,353.86 L163.10,351.72 L163.19,349.59 L163.29,347.45 L163.38,345.31 L163.47,343.18 L163.57,341.04 L163.66,338.90 L163.76,336.76 L163.86,334.63 L163.95,332.49 L164.05,330.35 L164.15,328.22 L164.24,326.08 L164.34,323.94 L164.44,321.81 L164.54,319.67 L164.64,317.53 L164.74,315.40 L164.84,313.26 L164.94,311.12 L165.04,308.99 L165.14,306.85 L165.24,304.71 L165.34,302.58 L165.44,300.44 L165.55,298.30 L165.65,296.17 L165.75,294.03 L165.86,291.90 L165.96,289.76 L166.06,287.62 L166.17,285.49 L166.27,283.35 L166.38,281.22 L166.48,279.08 L166.59,276.94 L166.69,274.81 L166.80,272.67 L166.90,270.54 L167.01,268.40 L167.12,266.27 L167.23,264.13 L167.33,262.00 L167.44,259.86 L167.56,257.73 L167.67,255.59 L167.79,253.46 L167.91,251.32 L168.03,249.19 L168.15,247.06 L168.28,244.92 L168.41,242.79 L168.55,240.66 L168.69,238.53 L168.84,236.39 L168.99,234.26 L169.14,232.13 L169.31,230.00 L169.47,227.88 L169.65,225.75 L169.83,223.62 L170.02,221.49 L170.21,219.37 L170.41,217.24 L170.62,215.11 L170.84,212.99 L171.07,210.87 L171.30,208.75 L171.55,206.62 L171.80,204.50 L172.06,202.38 L172.34,200.26 L172.62,198.15 L172.92,196.03 L173.22,193.91 L173.54,191.80 L173.87,189.69 L174.20,187.57 L174.52,185.70 L174.56,185.46 L174.68,184.76 L174.84,183.83 L174.92,183.35 L175.00,182.89 L175.17,181.95 L175.30,181.25 L175.34,181.01 L175.51,180.08 L175.69,179.14 L175.69,179.14 L175.86,178.20 L176.04,177.27 L176.09,177.03 L176.23,176.33 L176.41,175.40 L176.51,174.93 L176.60,174.46 L176.79,173.52 L176.94,172.82 L176.99,172.59 L177.18,171.66 L177.38,170.72 L177.38,170.72 L177.58,169.79 L177.79,168.85 L177.84,168.62 L178.00,167.92 L178.21,166.99 L178.32,166.52 L178.42,166.05 L178.64,165.12 L178.80,164.42 L178.86,164.19 L179.08,163.26 L179.31,162.33 L179.31,162.32 L179.54,161.39 L179.77,160.46 L179.83,160.23 L180.01,159.53 L180.25,158.60 L180.37,158.14 L180.49,157.67 L180.74,156.74 L180.92,156.05 L180.98,155.81 L181.24,154.88 L181.49,153.96 L181.49,153.95 L181.75,153.02 L182.01,152.10 L182.08,151.87 L182.28,151.17 L182.57,150.25 L182.73,149.81 L182.90,149.35 L183.26,148.47 L183.57,147.83 L183.68,147.61 L184.17,146.78 L184.73,146.00 L184.73,145.99 L185.37,145.26 L186.07,144.60 L186.24,144.46 L186.81,144.04 L187.58,143.61 L187.97,143.45 L188.38,143.32 L189.19,143.19 L189.78,143.22 L189.99,143.25 L190.78,143.48 L191.55,143.86 L191.56,143.87 L192.32,144.38 L193.06,145.01 L193.22,145.17 L193.76,145.72 L194.43,146.50 L194.73,146.89 L195.05,147.32 L195.63,148.16 L196.03,148.79 L196.16,149.02 L196.66,149.88 L197.11,150.73 L197.11,150.75 L197.54,151.62 L197.95,152.50 L198.04,152.70 L198.33,153.38 L198.70,154.27 L198.88,154.70 L199.07,155.16 L199.42,156.05 L199.68,156.70 L199.77,156.94 L200.11,157.83 L200.44,158.71 L200.45,158.73 L200.78,159.63 L201.10,160.53 L201.17,160.73 L201.42,161.43 L201.73,162.33 L201.88,162.76 L202.03,163.23 L202.33,164.14 L202.55,164.80 L202.63,165.04 L202.92,165.95 L203.20,166.84 L203.20,166.86 L203.49,167.77 L203.76,168.68 L203.82,168.88 L204.03,169.59 L204.30,170.50 L204.43,170.93 L204.57,171.41 L204.83,172.33 L205.02,172.99 L205.09,173.24 L205.34,174.16 L205.59,175.05 L205.60,175.07 L205.85,175.99 L206.09,176.91 L206.15,177.11 L206.34,177.83 L206.58,178.75 L206.70,179.18 L206.82,179.66 L207.06,180.58 L207.24,181.25 L207.30,181.50 L207.54,182.42 L207.77,183.32 L207.78,183.34 L208.01,184.27 L208.25,185.19 L208.30,185.39 L208.48,186.11 L208.71,187.03 L208.82,187.46 L208.95,187.95 L209.18,188.87 L209.35,189.53 L209.41,189.79 L209.64,190.71 L209.87,191.61 L209.88,191.63 L210.11,192.56 L210.34,193.48 L210.39,193.68 L210.56,194.40 L210.79,195.32 L210.90,195.75 L211.02,196.24 L211.25,197.17 L211.41,197.83 L211.48,198.09 L211.70,199.01 L211.92,199.90 L211.93,199.93 L212.15,200.86 L212.38,201.78 L212.43,201.98 L212.60,202.70 L212.83,203.63 L212.93,204.05 L213.05,204.55 L213.27,205.47 L213.43,206.13 L213.50,206.40 L213.72,207.32 L213.93,208.21 L213.94,208.24 L214.16,209.17 L214.38,210.09 L214.43,210.29 L214.60,211.02 L214.82,211.94 L214.92,212.37 L215.04,212.87 L215.26,213.79 L215.41,214.45 L215.48,214.71 L215.70,215.64 L215.90,216.53 L215.91,216.56 L216.13,217.49 L216.35,218.41 L216.39,218.61 L216.56,219.34 L216.78,220.26 L216.88,220.69 L216.99,221.19 L217.21,222.11 L217.36,222.77 L217.42,223.04 L217.64,223.96 L217.84,224.85 L217.85,224.89 L218.07,225.82 L218.28,226.74 L218.32,226.93 L218.49,227.67 L218.71,228.59 L218.80,229.01 L218.92,229.52 L219.13,230.45 L219.28,231.10 L219.34,231.37 L219.55,232.30 L219.75,233.18 L219.76,233.22 L219.97,234.15 L220.18,235.08 L220.23,235.26 L220.39,236.00 L220.60,236.93 L220.70,237.35 L220.81,237.86 L221.02,238.78 L221.17,239.43 L221.23,239.71 L221.44,240.64 L221.64,241.52 L221.65,241.56 L221.86,242.49 L222.06,243.42 L222.11,243.60 L222.27,244.34 L222.48,245.27 L222.57,245.69 L222.69,246.20 L222.89,247.13 L223.04,247.77 L223.10,248.05 L223.31,248.98 L223.50,249.86 L223.51,249.91 L223.72,250.84 L223.93,251.76 L223.97,251.95 L224.13,252.69 L224.34,253.62 L224.43,254.03 L224.54,254.55 L224.75,255.47 L224.89,256.12 L224.95,256.40 L225.16,257.33 L225.35,258.21 L225.36,258.26 L225.57,259.19 L225.77,260.11 L225.81,260.29 L225.97,261.04 L226.18,261.97 L226.27,262.38 L226.38,262.90 L226.59,263.83 L226.73,264.47 L226.79,264.75 L226.99,265.68 L227.18,266.55 L227.20,266.61 L227.40,267.54 L227.60,268.47 L227.64,268.64 L227.81,269.39 L228.01,270.32 L228.10,270.73 L228.21,271.25 L228.41,272.18 L228.55,272.82 L228.62,273.11 L228.82,274.04 L229.01,274.91 L229.02,274.96 L229.23,275.89 L229.43,276.82 L229.47,276.99 L229.63,277.75 L229.83,278.68 L229.92,279.08 L230.04,279.61 L230.24,280.53 L230.38,281.17 L230.44,281.46 L230.64,282.39 L230.83,283.26 L230.85,283.32 L231.05,284.25 L231.25,285.18 L231.29,285.35 L231.45,286.11 L231.66,287.03 L231.74,287.44 L231.86,287.96 L232.06,288.89 L232.20,289.52 L232.26,289.82 L232.47,290.75 L232.66,291.61 L232.67,291.68 L232.87,292.61 L233.07,293.53 L233.11,293.70 L233.28,294.46 L233.48,295.39 L233.57,295.79 L233.68,296.32 L234.02,297.88 L234.48,299.97 L234.94,302.05 L235.40,304.14 L235.86,306.23 L236.32,308.32 L236.78,310.41 L237.24,312.49 L237.70,314.58 L238.16,316.67 L238.63,318.76 L239.09,320.84 L239.56,322.93 L240.03,325.01 L240.50,327.10 L240.97,329.19 L241.44,331.27 L241.91,333.36 L242.39,335.44 L242.87,337.53 L243.34,339.61 L243.82,341.69 L244.31,343.78 L244.79,345.86 L245.28,347.94 L245.76,350.03 L246.25,352.11 L246.75,354.19 L247.24,356.27 L247.74,358.35 L248.24,360.43 L248.74,362.51 L249.24,364.59 L249.75,366.67 L250.26,368.74 L250.77,370.82 L251.28,372.90 L251.80,374.97 L252.32,377.05 L252.84,379.12 L253.37,381.20 L253.89,383.27 L254.42,385.34 L254.96,387.42 L255.49,389.49 L256.03,391.56 L256.57,393.63 L257.12,395.70 L257.67,397.76 L258.22,399.83 L258.77,401.90 L259.33,403.96 L259.89,406.03 L260.45,408.09 L261.02,410.16 L261.59,412.22 L262.16,414.28 L262.74,416.34 L263.32,418.40 L263.90,420.46 L264.49,422.51 L265.08,424.57 L265.67,426.63 L266.27,428.68 L266.87,430.73 L267.47,432.78 L268.08,434.84 L268.69,436.89 L269.31,438.93 L269.93,440.98 L270.55,443.03 L271.17,445.07 L271.80,447.12 L272.44,449.16 L273.08,451.20 L273.72,453.24 L274.36,455.28 L275.01,457.32 L275.67,459.35 L276.32,461.39 L276.99,463.42 L277.65,465.45 L278.32,467.48 L279.00,469.51 L279.68,471.54 L280.36,473.57 L281.05,475.59 L281.74,477.62 L282.43,479.64 L283.13,481.66 L283.84,483.68 L284.55,485.69 L285.26,487.71 L285.98,489.72 L286.70,491.74 L287.43,493.75 L288.16,495.76 L288.90,497.77 L289.64,499.77 L290.38,501.78 L291.13,503.78 L291.89,505.78 L292.65,507.78 L293.42,509.78 L294.19,511.77 L294.96,513.77 L295.74,515.76 L296.53,517.75 L297.32,519.74 L298.11,521.72 L298.91,523.71 L299.72,525.69 L300.53,527.67 L301.34,529.65 L302.17,531.63 L302.99,533.60 L303.82,535.58 L304.66,537.55 L305.50,539.52 L306.35,541.48 L307.20,543.45 L308.06,545.41 L308.93,547.37 L309.80,549.33 L310.67,551.29 L311.55,553.24 L312.44,555.19 L313.33,557.14 L314.23,559.09 L315.13,561.04 L316.04,562.98 L316.96,564.92 L317.88,566.86 L318.81,568.79 L319.74,570.72 L320.68,572.65 L321.63,574.58 L322.58,576.50 L323.53,578.42 L324.50,580.34 L325.47,582.25 L326.44,584.16 L327.43,586.07 L328.41,587.97 L329.41,589.87 L330.41,591.77 L331.42,593.66 L332.43,595.55 L333.45,597.44 L334.47,599.32 L335.51,601.20 L336.55,603.07 L337.59,604.94 L338.64,606.81 L339.70,608.67 L340.77,610.53 L341.84,612.38 L342.92,614.23 L344.01,616.07 L345.10,617.91 L346.20,619.75 L347.30,621.58 L348.42,623.41 L349.54,625.23 L350.66,627.04 L351.80,628.86 L352.94,630.66 L354.09,632.46 L355.24,634.26 L356.40,636.05 L357.57,637.84 L358.75,639.62 L359.93,641.39 L361.12,643.16 L362.32,644.93 L363.53,646.69 L364.74,648.44 L365.96,650.19 L367.19,651.93 L368.42,653.67 L369.67,655.40 L370.92,657.12 L372.17,658.84 L373.44,660.55 L374.71,662.25 L375.99,663.95 L377.28,665.65 L378.58,667.33 L379.88,669.01 L381.19,670.68 L382.51,672.35 L383.84,674.01 L385.18,675.66 L386.52,677.31 L387.87,678.95 L389.23,680.58 L390.60,682.21 L391.97,683.83 L393.36,685.44 L394.75,687.04 L396.15,688.64 L397.55,690.23 L398.97,691.81 L400.40,693.38 L401.83,694.95 L403.27,696.51 L404.72,698.06 L406.18,699.61 L407.64,701.14 L409.12,702.67 L410.60,704.19 L412.09,705.70 L413.59,707.21 L415.10,708.70 L416.62,710.19 L418.15,711.67 L419.68,713.14 L421.23,714.60 L422.78,716.05 L424.34,717.50 L425.91,718.94 L427.49,720.36 L429.08,721.78 L430.68,723.19 L432.28,724.59 L433.90,725.98 L435.52,727.37 L437.15,728.74 L438.80,730.11 L440.45,731.46 L442.11,732.81 L443.78,734.14 L445.46,735.47 L447.14,736.79 L448.84,738.10 L450.54,739.39 L452.26,740.68 L453.98,741.96 L455.71,743.23 L457.45,744.49 L459.19,745.74 L460.95,746.98 L462.71,748.22 L464.48,749.44 L466.25,750.65 L468.04,751.85 L469.83,753.04 L471.63,754.22 L473.44,755.39 L475.25,756.56 L477.07,757.71 L478.90,758.85 L480.73,759.98 L482.57,761.10 L484.42,762.21 L486.27,763.31 L488.13,764.40 L490.00,765.48 L491.88,766.55 L493.75,767.61 L495.64,768.66 L497.53,769.70 L499.43,770.72 L501.33,771.74 L503.24,772.75 L505.15,773.74 L507.07,774.73 L509.00,775.70 L510.93,776.66 L512.86,777.62 L514.80,778.56 L516.75,779.49 L518.70,780.41 L520.65,781.32 L522.61,782.21 L524.57,783.10 L526.54,783.98 L528.51,784.84 L530.49,785.70 L532.47,786.54 L534.46,787.38 L536.44,788.20 L538.44,789.02 L540.43,789.82 L542.43,790.62 L544.43,791.40 L546.44,792.18 L548.45,792.94 L550.46,793.70 L552.48,794.45 L554.50,795.19 L556.52,795.92 L558.54,796.64 L560.57,797.36 L562.60,798.06 L564.63,798.76 L566.67,799.45 L568.71,800.13 L570.74,800.80 L572.79,801.47 L574.83,802.12 L576.87,802.77 L578.92,803.41 L580.97,804.05 L583.02,804.68 L585.07,805.30 L587.12,805.91 L589.18,806.52 L591.23,807.12 L593.29,807.71 L595.35,808.30 L597.41,808.88 L599.46,809.46 L601.52,810.03 L603.58,810.59 L605.64,811.15 L607.71,811.70 L609.77,812.25 L611.83,812.79 L613.89,813.32 L615.95,813.85 L618.02,814.38 L620.08,814.89 L622.15,815.41 L624.21,815.91 L626.28,816.42 L628.35,816.91 L630.41,817.40 L632.48,817.89 L634.55,818.37 L636.62,818.85 L638.69,819.32 L640.76,819.78 L642.84,820.24 L644.91,820.70 L646.98,821.15 L649.06,821.59 L651.13,822.03 L653.21,822.47 L655.29,822.90 L657.37,823.32 L659.45,823.74 L661.53,824.16 L663.61,824.57 L665.69,824.97 L667.77,825.38 L669.86,825.77 L671.94,826.17 L674.03,826.55 L676.12,826.94 L678.21,827.31 L680.30,827.69 L682.39,828.06 L684.48,828.42 L686.58,828.78 L688.68,829.14 L690.77,829.49 L692.87,829.84 L694.97,830.19 L697.07,830.52 L699.17,830.86 L701.28,831.19 L703.38,831.52 L705.49,831.84 L707.60,832.16 L709.71,832.48 L711.82,832.79 L713.93,833.10 L716.05,833.40 L718.16,833.70 L720.28,833.99 L722.40,834.29 L724.52,834.57 L726.64,834.86 L728.77,835.14 L730.89,835.42 L733.02,835.69 L735.15,835.96 L737.28,836.23 L739.41,836.49 L741.55,836.75 L743.69,837.01 L745.82,837.26 L747.97,837.51 L750.11,837.76 L752.25,838.00 L754.40,838.24 L756.55,838.48 L758.70,838.71 L760.85,838.94 L763.00,839.17 L765.16,839.39 L767.32,839.61 L769.48,839.83 L771.64,840.05 L773.81,840.26 L775.97,840.47 L778.14,840.68 L780.31,840.88" fill="none" stroke="#000" stroke-width="2.35" stroke-dasharray="4.3 3.2"/>
<path d="M156.80,620.41 L156.83,618.29 L156.85,616.17 L156.88,614.05 L156.90,611.92 L156.92,609.80 L156.95,607.68 L156.97,605.57 L157.00,603.45 L157.02,601.33 L157.05,599.21 L157.07,597.09 L157.10,594.97 L157.12,592.86 L157.15,590.74 L157.17,588.62 L157.20,586.51 L157.23,584.39 L157.25,582.28 L157.28,580.16 L157.31,578.05 L157.33,575.93 L157.36,573.82 L157.39,571.71 L157.42,569.59 L157.45,567.48 L157.47,565.37 L157.50,563.25 L157.53,561.14 L157.56,559.03 L157.59,556.92 L157.62,554.81 L157.65,552.70 L157.68,550.59 L157.71,548.48 L157.75,546.37 L157.78,544.26 L157.81,542.15 L157.84,540.04 L157.88,537.93 L157.91,535.82 L157.94,533.71 L157.98,531.60 L158.01,529.50 L158.05,527.39 L158.08,525.28 L158.12,523.17 L158.15,521.07 L158.19,518.96 L158.23,516.85 L158.27,514.75 L158.30,512.64 L158.34,510.53 L158.38,508.43 L158.42,506.32 L158.46,504.22 L158.50,502.11 L158.54,500.00 L158.58,497.90 L158.62,495.79 L158.67,493.69 L158.71,491.59 L158.75,489.48 L158.80,487.38 L158.84,485.27 L158.89,483.17 L158.93,481.06 L158.98,478.96 L159.02,476.86 L159.07,474.75 L159.12,472.65 L159.17,470.54 L159.22,468.44 L159.27,466.34 L159.32,464.23 L159.37,462.13 L159.42,460.03 L159.47,457.93 L159.52,455.82 L159.58,453.72 L159.63,451.62 L159.69,449.51 L159.74,447.41 L159.80,445.31 L159.85,443.20 L159.91,441.10 L159.97,439.00 L160.03,436.90 L160.09,434.79 L160.15,432.69 L160.21,430.59 L160.27,428.49 L160.33,426.38 L160.40,424.28 L160.46,422.18 L160.52,420.07 L160.59,417.97 L160.66,415.87 L160.72,413.77 L160.79,411.66 L160.86,409.56 L160.93,407.46 L161.00,405.35 L161.07,403.25 L161.14,401.15 L161.21,399.04 L161.29,396.94 L161.36,394.84 L161.44,392.73 L161.51,390.63 L161.59,388.53 L161.67,386.42 L161.74,384.32 L161.82,382.22 L161.90,380.11 L161.98,378.01 L162.07,375.90 L162.15,373.80 L162.23,371.69 L162.32,369.59 L162.40,367.48 L162.49,365.38 L162.58,363.27 L162.66,361.17 L162.75,359.06 L162.84,356.96 L162.94,354.85 L163.03,352.74 L163.12,350.64 L163.21,348.53 L163.31,346.42 L163.41,344.32 L163.50,342.21 L163.60,340.10 L163.70,338.00 L163.80,335.89 L163.90,333.78 L164.00,331.67 L164.11,329.56 L164.21,327.45 L164.32,325.35 L164.42,323.24 L164.53,321.13 L164.64,319.02 L164.75,316.91 L164.86,314.80 L164.97,312.69 L165.08,310.58 L165.20,308.46 L165.31,306.35 L165.43,304.24 L165.55,302.13 L165.66,300.02 L165.78,297.90 L165.90,295.79 L166.03,293.68 L166.15,291.57 L166.27,289.45 L166.40,287.34 L166.53,285.22 L166.65,283.11 L166.78,280.99 L166.91,278.88 L167.04,276.76 L167.18,274.64 L167.31,272.53 L167.44,270.41 L167.58,268.29 L167.72,266.18 L167.86,264.06 L168.00,261.94 L168.14,259.82 L168.29,257.70 L168.44,255.59 L168.59,253.47 L168.75,251.35 L168.90,249.24 L169.07,247.12 L169.23,245.01 L169.41,242.90 L169.58,240.79 L169.76,238.68 L169.95,236.57 L170.14,234.46 L170.34,232.35 L170.54,230.25 L170.75,228.15 L170.97,226.05 L171.19,223.95 L171.42,221.85 L171.66,219.76 L171.91,217.67 L172.16,215.58 L172.42,213.50 L172.69,211.42 L172.97,209.34 L173.26,207.26 L173.56,205.19 L173.86,203.12 L174.18,201.05 L174.51,198.99 L174.85,196.93 L175.19,194.88 L175.55,192.82 L175.92,190.78 L176.31,188.74 L176.70,186.70 L177.10,184.66 L177.52,182.63 L177.73,181.63 L177.89,180.88 L177.95,180.61 L178.06,180.12 L178.23,179.36 L178.40,178.61 L178.40,178.58 L178.57,177.85 L178.75,177.09 L178.88,176.54 L178.93,176.32 L179.12,175.55 L179.32,174.78 L179.40,174.47 L179.52,174.00 L179.73,173.21 L179.95,172.43 L179.97,172.37 L180.18,171.64 L180.42,170.85 L180.60,170.26 L180.66,170.07 L180.92,169.28 L181.19,168.50 L181.31,168.17 L181.47,167.72 L181.76,166.95 L182.07,166.19 L182.10,166.11 L182.38,165.44 L182.71,164.69 L182.99,164.12 L183.06,163.96 L183.42,163.24 L183.80,162.53 L183.98,162.21 L184.19,161.84 L184.61,161.19 L185.04,160.58 L185.11,160.50 L185.51,160.03 L186.00,159.56 L186.43,159.24 L186.53,159.18 L187.09,158.90 L187.69,158.73 L188.01,158.70 L188.33,158.70 L189.01,158.80 L189.70,159.02 L189.82,159.07 L190.38,159.34 L191.02,159.75 L191.54,160.17 L191.62,160.24 L192.17,160.80 L192.68,161.40 L192.95,161.74 L193.17,162.04 L193.63,162.70 L194.08,163.37 L194.17,163.52 L194.51,164.05 L194.93,164.73 L195.30,165.35 L195.34,165.42 L195.74,166.11 L196.12,166.81 L196.34,167.22 L196.50,167.52 L196.86,168.22 L197.22,168.94 L197.31,169.12 L197.56,169.65 L197.90,170.37 L198.21,171.05 L198.23,171.10 L198.54,171.82 L198.85,172.56 L199.04,173.01 L199.16,173.29 L199.45,174.03 L199.74,174.77 L199.82,174.99 L200.02,175.51 L200.30,176.25 L200.56,176.98 L200.57,177.00 L200.83,177.75 L201.09,178.50 L201.26,178.99 L201.35,179.25 L201.60,180.01 L201.84,180.76 L201.93,181.01 L202.09,181.52 L202.33,182.27 L202.57,183.03 L202.57,183.04 L202.81,183.79 L203.04,184.55 L203.20,185.07 L203.27,185.30 L203.51,186.06 L203.74,186.82 L203.82,187.10 L203.96,187.58 L204.19,188.34 L204.42,189.10 L204.43,189.14 L204.64,189.86 L204.86,190.61 L205.03,191.17 L205.09,191.37 L205.31,192.13 L205.52,192.89 L205.61,193.21 L205.74,193.65 L205.96,194.41 L206.17,195.17 L206.19,195.24 L206.38,195.93 L206.59,196.69 L206.76,197.28 L206.80,197.45 L207.01,198.21 L207.22,198.98 L207.31,199.32 L207.43,199.74 L207.63,200.50 L207.83,201.26 L207.86,201.36 L208.04,202.02 L208.24,202.78 L208.40,203.40 L208.44,203.54 L208.63,204.30 L208.83,205.07 L208.93,205.44 L209.03,205.83 L209.22,206.59 L209.42,207.35 L209.45,207.48 L209.61,208.12 L209.80,208.88 L209.96,209.52 L209.99,209.64 L210.18,210.40 L210.37,211.17 L210.47,211.57 L210.56,211.93 L210.74,212.69 L210.93,213.46 L210.97,213.61 L211.11,214.22 L211.30,214.98 L211.46,215.66 L211.48,215.75 L211.66,216.51 L211.84,217.27 L211.94,217.70 L212.02,218.04 L212.20,218.80 L212.38,219.57 L212.42,219.75 L212.55,220.33 L212.73,221.10 L212.89,221.80 L212.90,221.86 L213.08,222.63 L213.25,223.39 L213.36,223.85 L213.42,224.15 L213.60,224.92 L213.77,225.69 L213.82,225.90 L213.94,226.45 L214.11,227.22 L214.27,227.95 L214.28,227.98 L214.45,228.75 L214.61,229.51 L214.72,230.00 L214.78,230.28 L214.95,231.04 L215.11,231.81 L215.17,232.05 L215.28,232.58 L215.44,233.34 L215.61,234.11 L215.61,234.11 L215.77,234.88 L215.93,235.64 L216.04,236.16 L216.10,236.41 L216.26,237.17 L216.42,237.94 L216.48,238.21 L216.58,238.71 L216.74,239.48 L216.90,240.24 L216.91,240.27 L217.06,241.01 L217.22,241.78 L217.33,242.32 L217.38,242.54 L217.54,243.31 L217.69,244.08 L217.76,244.38 L217.85,244.85 L218.01,245.61 L218.17,246.38 L218.18,246.44 L218.32,247.15 L218.48,247.92 L218.60,248.49 L218.64,248.68 L218.79,249.45 L218.95,250.22 L219.02,250.55 L219.10,250.99 L219.26,251.76 L219.41,252.53 L219.43,252.61 L219.57,253.29 L219.72,254.06 L219.85,254.67 L219.88,254.83 L220.03,255.60 L220.19,256.37 L220.26,256.73 L220.34,257.14 L220.50,257.91 L220.65,258.67 L220.67,258.79 L220.81,259.44 L220.96,260.21 L221.09,260.85 L221.11,260.98 L221.27,261.75 L221.42,262.52 L221.50,262.91 L221.58,263.29 L221.73,264.06 L221.89,264.83 L221.91,264.97 L222.04,265.60 L222.19,266.36 L222.33,267.03 L222.35,267.13 L222.50,267.90 L222.66,268.67 L222.74,269.09 L222.81,269.44 L222.97,270.21 L223.13,270.98 L223.16,271.15 L223.28,271.75 L223.44,272.52 L223.58,273.22 L223.59,273.29 L223.75,274.06 L223.91,274.83 L224.00,275.28 L224.06,275.60 L224.22,276.37 L224.38,277.14 L224.42,277.34 L224.53,277.91 L224.69,278.68 L224.84,279.41 L224.85,279.45 L225.01,280.22 L225.17,280.99 L225.26,281.47 L225.32,281.76 L225.48,282.53 L225.64,283.30 L225.69,283.53 L225.80,284.07 L225.96,284.84 L226.12,285.60 L226.12,285.61 L226.28,286.38 L226.44,287.15 L226.54,287.66 L226.60,287.92 L226.76,288.69 L226.92,289.46 L226.97,289.72 L227.08,290.23 L227.24,291.00 L227.40,291.77 L227.41,291.79 L227.56,292.55 L227.73,293.32 L227.84,293.85 L227.89,294.09 L228.05,294.86 L228.21,295.63 L228.27,295.92 L228.37,296.40 L228.71,297.98 L229.15,300.05 L229.59,302.11 L230.03,304.17 L230.47,306.24 L230.91,308.30 L231.36,310.37 L231.80,312.43 L232.25,314.50 L232.70,316.56 L233.16,318.62 L233.61,320.69 L234.06,322.75 L234.52,324.81 L234.98,326.88 L235.44,328.94 L235.90,331.00 L236.37,333.06 L236.83,335.13 L237.30,337.19 L237.77,339.25 L238.24,341.31 L238.71,343.37 L239.19,345.43 L239.66,347.49 L240.14,349.55 L240.62,351.61 L241.10,353.67 L241.58,355.73 L242.07,357.78 L242.56,359.84 L243.05,361.90 L243.54,363.95 L244.03,366.01 L244.52,368.06 L245.02,370.11 L245.52,372.17 L246.02,374.22 L246.52,376.27 L247.03,378.32 L247.54,380.37 L248.05,382.42 L248.56,384.47 L249.07,386.52 L249.59,388.57 L250.11,390.61 L250.63,392.66 L251.15,394.70 L251.68,396.75 L252.21,398.79 L252.74,400.83 L253.27,402.88 L253.81,404.92 L254.35,406.96 L254.89,409.00 L255.44,411.03 L255.99,413.07 L256.54,415.11 L257.09,417.14 L257.65,419.18 L258.21,421.21 L258.77,423.24 L259.33,425.27 L259.90,427.30 L260.47,429.33 L261.05,431.36 L261.63,433.39 L262.21,435.41 L262.79,437.44 L263.38,439.46 L263.97,441.48 L264.57,443.51 L265.16,445.53 L265.76,447.54 L266.37,449.56 L266.98,451.58 L267.59,453.59 L268.21,455.61 L268.82,457.62 L269.45,459.63 L270.07,461.64 L270.70,463.65 L271.34,465.66 L271.98,467.67 L272.62,469.67 L273.26,471.68 L273.91,473.68 L274.56,475.68 L275.22,477.68 L275.88,479.68 L276.55,481.67 L277.22,483.67 L277.89,485.66 L278.57,487.66 L279.25,489.65 L279.94,491.64 L280.63,493.62 L281.32,495.61 L282.02,497.60 L282.73,499.58 L283.44,501.56 L284.15,503.54 L284.87,505.52 L285.59,507.50 L286.32,509.47 L287.05,511.45 L287.78,513.42 L288.52,515.39 L289.27,517.36 L290.02,519.33 L290.77,521.29 L291.53,523.25 L292.30,525.22 L293.07,527.18 L293.84,529.14 L294.62,531.09 L295.41,533.05 L296.20,535.00 L296.99,536.95 L297.79,538.90 L298.60,540.85 L299.41,542.79 L300.22,544.74 L301.04,546.68 L301.87,548.62 L302.70,550.56 L303.54,552.49 L304.38,554.43 L305.23,556.36 L306.09,558.29 L306.94,560.22 L307.81,562.14 L308.68,564.07 L309.56,565.99 L310.44,567.91 L311.33,569.83 L312.22,571.75 L313.12,573.66 L314.03,575.57 L314.94,577.48 L315.85,579.39 L316.78,581.29 L317.71,583.20 L318.64,585.10 L319.58,586.99 L320.53,588.89 L321.49,590.78 L322.45,592.67 L323.41,594.56 L324.38,596.44 L325.36,598.32 L326.35,600.20 L327.34,602.07 L328.34,603.94 L329.34,605.81 L330.35,607.67 L331.37,609.53 L332.40,611.38 L333.43,613.24 L334.46,615.08 L335.51,616.93 L336.56,618.77 L337.62,620.60 L338.68,622.43 L339.75,624.26 L340.83,626.08 L341.92,627.90 L343.01,629.71 L344.11,631.52 L345.22,633.33 L346.33,635.13 L347.45,636.92 L348.58,638.71 L349.71,640.49 L350.85,642.27 L352.00,644.04 L353.16,645.81 L354.32,647.57 L355.50,649.33 L356.67,651.08 L357.86,652.82 L359.05,654.56 L360.26,656.29 L361.46,658.02 L362.68,659.74 L363.91,661.45 L365.14,663.16 L366.38,664.86 L367.62,666.56 L368.88,668.24 L370.14,669.93 L371.41,671.60 L372.69,673.27 L373.98,674.93 L375.27,676.58 L376.58,678.23 L377.89,679.87 L379.20,681.50 L380.53,683.13 L381.87,684.74 L383.21,686.35 L384.56,687.95 L385.92,689.55 L387.29,691.13 L388.67,692.71 L390.05,694.28 L391.44,695.84 L392.85,697.40 L394.26,698.94 L395.67,700.48 L397.10,702.01 L398.54,703.53 L399.98,705.04 L401.44,706.54 L402.90,708.04 L404.37,709.52 L405.85,711.00 L407.34,712.46 L408.83,713.92 L410.34,715.37 L411.86,716.81 L413.38,718.24 L414.91,719.66 L416.46,721.07 L418.01,722.47 L419.57,723.86 L421.14,725.24 L422.72,726.61 L424.31,727.97 L425.90,729.32 L427.51,730.66 L429.13,731.99 L430.75,733.31 L432.38,734.62 L434.03,735.92 L435.68,737.21 L437.34,738.49 L439.00,739.76 L440.68,741.02 L442.37,742.27 L444.06,743.51 L445.76,744.74 L447.47,745.96 L449.18,747.17 L450.91,748.37 L452.64,749.57 L454.38,750.75 L456.13,751.92 L457.88,753.08 L459.65,754.24 L461.42,755.38 L463.19,756.52 L464.98,757.64 L466.77,758.76 L468.56,759.86 L470.37,760.96 L472.18,762.05 L474.00,763.13 L475.82,764.20 L477.65,765.26 L479.49,766.31 L481.33,767.35 L483.18,768.38 L485.04,769.40 L486.90,770.42 L488.76,771.42 L490.64,772.42 L492.51,773.41 L494.40,774.39 L496.29,775.36 L498.18,776.32 L500.08,777.27 L501.98,778.21 L503.89,779.14 L505.81,780.07 L507.73,780.99 L509.65,781.89 L511.58,782.79 L513.52,783.68 L515.45,784.56 L517.40,785.44 L519.34,786.30 L521.29,787.16 L523.25,788.00 L525.21,788.84 L527.17,789.67 L529.14,790.50 L531.11,791.31 L533.08,792.11 L535.06,792.91 L537.04,793.70 L539.03,794.48 L541.01,795.25 L543.00,796.02 L545.00,796.77 L546.99,797.52 L548.99,798.26 L551.00,798.99 L553.00,799.71 L555.01,800.43 L557.02,801.14 L559.03,801.84 L561.05,802.53 L563.06,803.21 L565.08,803.89 L567.10,804.55 L569.13,805.21 L571.15,805.87 L573.18,806.51 L575.21,807.15 L577.24,807.78 L579.27,808.40 L581.30,809.01 L583.33,809.62 L585.37,810.22 L587.41,810.81 L589.44,811.39 L591.48,811.97 L593.52,812.54 L595.56,813.10 L597.60,813.65 L599.64,814.20 L601.68,814.74 L603.72,815.27 L605.76,815.79 L607.80,816.31 L609.84,816.82 L611.89,817.32 L613.93,817.82 L615.97,818.31 L618.01,818.79 L620.05,819.27 L622.10,819.74 L624.14,820.20 L626.18,820.65 L628.23,821.11 L630.27,821.55 L632.32,821.99 L634.36,822.42 L636.41,822.85 L638.45,823.27 L640.50,823.68 L642.55,824.09 L644.60,824.49 L646.64,824.89 L648.69,825.29 L650.74,825.67 L652.79,826.06 L654.85,826.44 L656.90,826.81 L658.95,827.18 L661.00,827.54 L663.06,827.90 L665.11,828.26 L667.17,828.61 L669.23,828.95 L671.29,829.30 L673.35,829.63 L675.41,829.97 L677.47,830.30 L679.53,830.63 L681.59,830.95 L683.66,831.27 L685.72,831.58 L687.79,831.90 L689.86,832.21 L691.93,832.51 L694.00,832.82 L696.07,833.12 L698.15,833.41 L700.22,833.71 L702.30,834.00 L704.37,834.29 L706.45,834.58 L708.53,834.86 L710.62,835.14 L712.70,835.42 L714.78,835.70 L716.87,835.98 L718.96,836.25 L721.05,836.53 L723.14,836.80 L725.23,837.07 L727.33,837.33 L729.43,837.60 L731.52,837.87 L733.62,838.13 L735.73,838.40 L737.83,838.66 L739.94,838.92 L742.04,839.18 L744.15,839.44 L746.27,839.70 L748.38,839.96 L750.49,840.22 L752.61,840.48 L754.73,840.73 L756.85,840.99 L758.98,841.25 L761.11,841.51 L763.23,841.77 L765.36,842.03 L767.50,842.29 L769.63,842.55 L771.77,842.81 L773.91,843.07 L776.05,843.33 L778.20,843.60 L780.34,843.86" fill="none" stroke="#ff0000" stroke-width="2.3" stroke-linejoin="round"/>
<!-- data points -->
<path d="M187.30,135.00H218.60M187.30,125.00V145.00M218.60,125.00V145.00M202.90,49.50V221.30M192.90,49.50H212.90M192.90,221.30H212.90M218.60,328.20H249.90M218.60,318.20V338.20M249.90,318.20V338.20M234.50,263.70V393.10M224.50,263.70H244.50M224.50,393.10H244.50M249.90,393.10H280.40M249.90,383.10V403.10M280.40,383.10V403.10M271.85,322.90V436.10M261.85,322.90H281.85M261.85,436.10H281.85M281.20,532.50H344.10M281.20,522.50V542.50M344.10,522.50V542.50M312.50,495.10V570.30M302.50,495.10H322.50M302.50,570.30H322.50M344.10,672.40H406.80M344.10,662.40V682.40M406.80,662.40V682.40M375.50,640.50V699.10M365.50,640.50H385.50M365.50,699.10H385.50M406.80,760.40H500.90M406.80,750.40V770.40M500.90,750.40V770.40M453.65,743.60V780.30M443.65,743.60H463.65M443.65,780.30H463.65M500.90,818.50H735.70M500.90,808.50V828.50M735.70,808.50V828.50M613.50,807.40V830.40M603.50,807.40H623.50M603.50,830.40H623.50M735.70,834.40H1000.00M735.70,824.40V844.40M1000.00,824.40V844.40M900.00,825.00V845.00M890.00,825.00H910.00M890.00,845.00H910.00" fill="none" stroke="#0000ff" stroke-opacity="0.5" stroke-width="1.0"/>
<g fill="#0000ff"><circle cx="202.90" cy="135.00" r="9.9"/><circle cx="234.50" cy="328.20" r="9.9"/><circle cx="271.85" cy="393.10" r="9.9"/><circle cx="312.50" cy="532.50" r="9.9"/><circle cx="375.50" cy="672.40" r="9.9"/><circle cx="453.65" cy="760.40" r="9.9"/><circle cx="613.50" cy="818.50" r="9.9"/><circle cx="900.00" cy="834.40" r="9.9"/></g>
<g style="will-change:transform">
<g><text transform="translate(125.01,882.75) scale(0.9750,1.0250)" style="font-size:49.5px">0</text><text transform="translate(89.63,775.21) scale(0.9750,1.0250)" style="font-size:49.5px">0.2</text><text transform="translate(87.73,667.67) scale(0.9750,1.0250)" style="font-size:49.5px">0.4</text><text transform="translate(88.41,560.13) scale(0.9750,1.0250)" style="font-size:49.5px">0.6</text><text transform="translate(88.81,452.59) scale(0.9750,1.0250)" style="font-size:49.5px">0.8</text><text transform="translate(126.07,345.05) scale(0.9750,1.0250)" style="font-size:49.5px">1</text><text transform="translate(89.63,237.51) scale(0.9750,1.0250)" style="font-size:49.5px">1.2</text><text transform="translate(87.73,129.97) scale(0.9750,1.0250)" style="font-size:49.5px">1.4</text><text transform="translate(88.41,22.43) scale(0.9750,1.0250)" style="font-size:49.5px">1.6</text></g>
<g><text transform="translate(143.62,909.30) scale(1.0000,1.0200)" style="font-size:49.5px">0</text><text transform="translate(280.49,909.30) scale(1.0000,1.0200)" style="font-size:49.5px">0.5</text><text transform="translate(457.39,909.30) scale(0.9500,1.0200)" style="font-size:49.5px">1</text><text transform="translate(596.12,909.30) scale(0.9700,1.0200)" style="font-size:49.5px">1.5</text></g>
<!-- legend -->
<path d="M354.8,141.7H448.4" stroke="#ff0000" stroke-width="3" fill="none"/>
<rect x="354.8" y="192.1" width="93.6" height="30.7" fill="#d4d4d4"/>
<path d="M355.3,207.6H448.4" stroke="#000" stroke-width="3" stroke-dasharray="4.1 3.4" fill="none"/>
<text x="475.57" y="26.40" style="font-size:49.5px">Event</text>
<text transform="translate(603.09,26.40) scale(0.9757,1.0000)" style="font-size:49.5px">number</text>
<text x="476.03" y="92.40" style="font-size:49.5px">3</text>
<path d="M514.40,79.85L538.85,67.10v3.35L520.82,79.85L538.85,89.25v3.35Z" fill="#000"/>
<text x="556.68" y="92.40" style="font-size:49.5px" font-style="italic">E</text>
<text x="586.11" y="108.00" style="font-size:36.5px">ν</text>
<path d="M614.60,79.85L639.05,67.10v3.35L621.02,79.85L639.05,89.25v3.35Z" fill="#000"/>
<text x="653.06" y="92.40" style="font-size:49.5px">30</text>
<text x="714.27" y="92.40" style="font-size:49.5px">GeV</text>
<text x="476.28" y="158.35" style="font-size:49.5px" font-style="italic">M</text>
<text x="518.59" y="174.35" style="font-size:34.65px" font-style="italic">A</text>
<g><rect x="551.7" y="138.65" width="26.20" height="2.95"/><rect x="551.7" y="147.90" width="26.20" height="3.05"/><rect x="709.4" y="137.30" width="25.8" height="2.8"/><rect x="721.0" y="125.90" width="2.9" height="25.8"/><rect x="709.4" y="155.00" width="25.8" height="3.0"/></g>
<text x="585.41" y="158.35" style="font-size:49.5px">0.999</text>
<text x="738.21" y="158.35" style="font-size:49.5px">0.011</text>
<text x="476.28" y="224.35" style="font-size:49.5px" font-style="italic">M</text>
<text x="518.59" y="240.35" style="font-size:34.65px" font-style="italic">A</text>
<g><rect x="551.7" y="204.65" width="26.20" height="2.95"/><rect x="551.7" y="213.90" width="26.20" height="3.05"/><rect x="709.4" y="203.30" width="25.8" height="2.8"/><rect x="721.0" y="191.90" width="2.9" height="25.8"/><rect x="709.4" y="221.00" width="25.8" height="3.0"/></g>
<text x="586.11" y="224.35" style="font-size:49.5px">1.050</text>
<text x="738.21" y="224.35" style="font-size:49.5px">0.011</text>
<text x="204.62" y="813.30" style="font-size:49.5px">(a)</text>
<!-- y axis title -->
<g transform="translate(58.4,0) rotate(-90)">
<path d="M-216.00,-14.00L-190.20,-26.50v3.5L-208.78,-14.00L-190.20,-5.00v3.5Z" fill="#000"/>
<text transform="translate(-177.79,0.00) scale(1.0,1.0)" style="font-size:52.5px" font-style="italic">d</text>
<text stroke="#000" stroke-width="0.7" transform="translate(-153.08,0.00) scale(1.09,0.95)" style="font-size:52.5px">σ</text>
<text transform="translate(-109.70,0.00) scale(1.0,1.0)" style="font-size:52.5px">/</text>
<text transform="translate(-84.99,0.00) scale(1.0,1.0)" style="font-size:52.5px" font-style="italic">d</text>
<text transform="translate(-59.90,0.00) scale(1.0,1.0)" style="font-size:52.5px" font-style="italic">Q</text>
<text transform="translate(-24.90,-25.30) scale(1.0,1.0)" style="font-size:36.5px">2</text>
</g>
</g>
</svg>
</body></html>
